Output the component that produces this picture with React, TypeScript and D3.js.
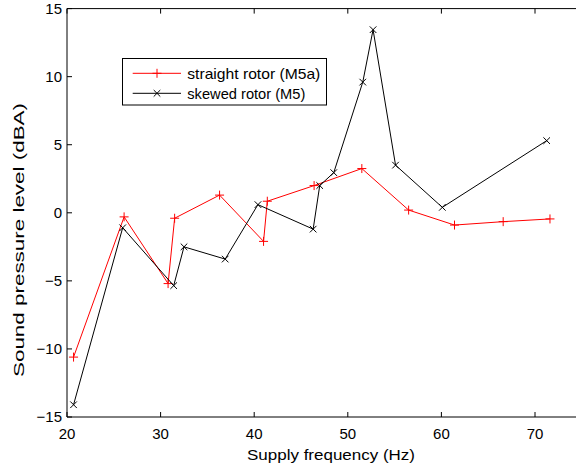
import React from "react";
import * as d3 from "d3";

const straightX = [20.7, 26.1, 30.8, 31.5, 36.3, 41.0, 41.4, 46.4, 51.5, 56.5, 61.4, 66.6, 71.6];
const straightY = [-10.6, -0.3, -5.2, -0.4, 1.3, -2.1, 0.85, 2.0, 3.25, 0.2, -0.9, -0.65, -0.45];
const skewedX = [20.7, 25.95, 31.4, 32.5, 36.9, 40.4, 46.3, 47.0, 48.5, 51.6, 52.7, 55.1, 60.1, 71.25];
const skewedY = [-14.1, -1.1, -5.35, -2.5, -3.4, 0.6, -1.2, 2.0, 2.95, 9.6, 13.45, 3.5, 0.4, 5.3];
const xTicks = [20, 30, 40, 50, 60, 70];
const yTicks = [-15, -10, -5, 0, 5, 10, 15];
const legendLabels = ["straight rotor (M5a)", "skewed rotor (M5)"];

const W = 576, H = 464;
const L = 67, R = 581.8, T = 8.6, B = 417;
const FONT = "'Liberation Sans', Arial, Helvetica, sans-serif";
const FS = 15;

export default function App() {
  const x = d3.scaleLinear().domain([20, 75]).range([L, R]);
  const y = d3.scaleLinear().domain([-15, 15]).range([B, T]);
  const line = d3.line<[number, number]>().x(d => x(d[0])).y(d => y(d[1]));
  const sData = straightX.map((v, i) => [v, straightY[i]] as [number, number]);
  const kData = skewedX.map((v, i) => [v, skewedY[i]] as [number, number]);
  const plus = (cx: number, cy: number, s: number, key: any, c: string) => (
    <path key={key} d={`M${cx - s},${cy}H${cx + s}M${cx},${cy - s}V${cy + s}`} stroke={c} strokeWidth={1} fill="none" />
  );
  const cross = (cx: number, cy: number, s: number, key: any, c: string) => (
    <path key={key} d={`M${cx - s},${cy - s}L${cx + s},${cy + s}M${cx - s},${cy + s}L${cx + s},${cy - s}`} stroke={c} strokeWidth={1} fill="none" />
  );
  return (
    <svg width={W} height={H} style={{ position: "absolute", left: 0, top: 0, background: "#fff" }} fontFamily={FONT}>
      <rect x={0} y={0} width={W} height={H} fill="#fff" />
      <line x1={L} x2={R} y1={T} y2={T} stroke="#000" />
      <line x1={L} x2={R} y1={B} y2={B} stroke="#000" />
      <line x1={L} x2={L} y1={T} y2={B} stroke="#000" />
      {xTicks.map(t => (
        <g key={"xt" + t}>
          <line x1={x(t)} x2={x(t)} y1={B} y2={B - 5} stroke="#000" />
          <line x1={x(t)} x2={x(t)} y1={T} y2={T + 5} stroke="#000" />
          <text x={x(t)} y={434} dy="0.35em" textAnchor="middle" fontSize={FS}>{t}</text>
        </g>
      ))}
      {yTicks.map(t => (
        <g key={"yt" + t}>
          <line x1={L} x2={L + 5} y1={y(t)} y2={y(t)} stroke="#000" />
          <text x={L - 5} y={y(t)} dy="0.35em" textAnchor="end" fontSize={FS}>{t < 0 ? "\u2212" + Math.abs(t) : t}</text>
        </g>
      ))}
      <text x={247} y={455} dy="0.35em" fontSize={FS} textLength={168} lengthAdjust="spacingAndGlyphs">Supply frequency (Hz)</text>
      <text transform={`translate(18.5,377) rotate(-90)`} dy="0.35em" fontSize={FS} textLength={274} lengthAdjust="spacingAndGlyphs">Sound pressure level (dBA)</text>
      <path d={line(sData) || ""} fill="none" stroke="#ff0000" strokeWidth={1} />
      {sData.map((d, i) => plus(x(d[0]), y(d[1]), 4.5, "sp" + i, "#ff0000"))}
      <path d={line(kData) || ""} fill="none" stroke="#000" strokeWidth={1} />
      {kData.map((d, i) => cross(x(d[0]), y(d[1]), 3.3, "kp" + i, "#000"))}
      <rect x={122.5} y={58.5} width={204} height={46.5} fill="#fff" stroke="#000" />
      <line x1={132.7} x2={181} y1={73.3} y2={73.3} stroke="#ff0000" />
      {plus(157, 73.3, 4.5, "lp", "#ff0000")}
      <line x1={132.7} x2={181} y1={93.3} y2={93.3} stroke="#000" />
      {cross(157, 93.3, 3.3, "lk", "#000")}
      <text x={187.3} y={73.3} dy="0.35em" fontSize={FS} textLength={133} lengthAdjust="spacingAndGlyphs">{legendLabels[0]}</text>
      <text x={187.3} y={93.3} dy="0.35em" fontSize={FS} textLength={118} lengthAdjust="spacingAndGlyphs">{legendLabels[1]}</text>
    </svg>
  );
}
